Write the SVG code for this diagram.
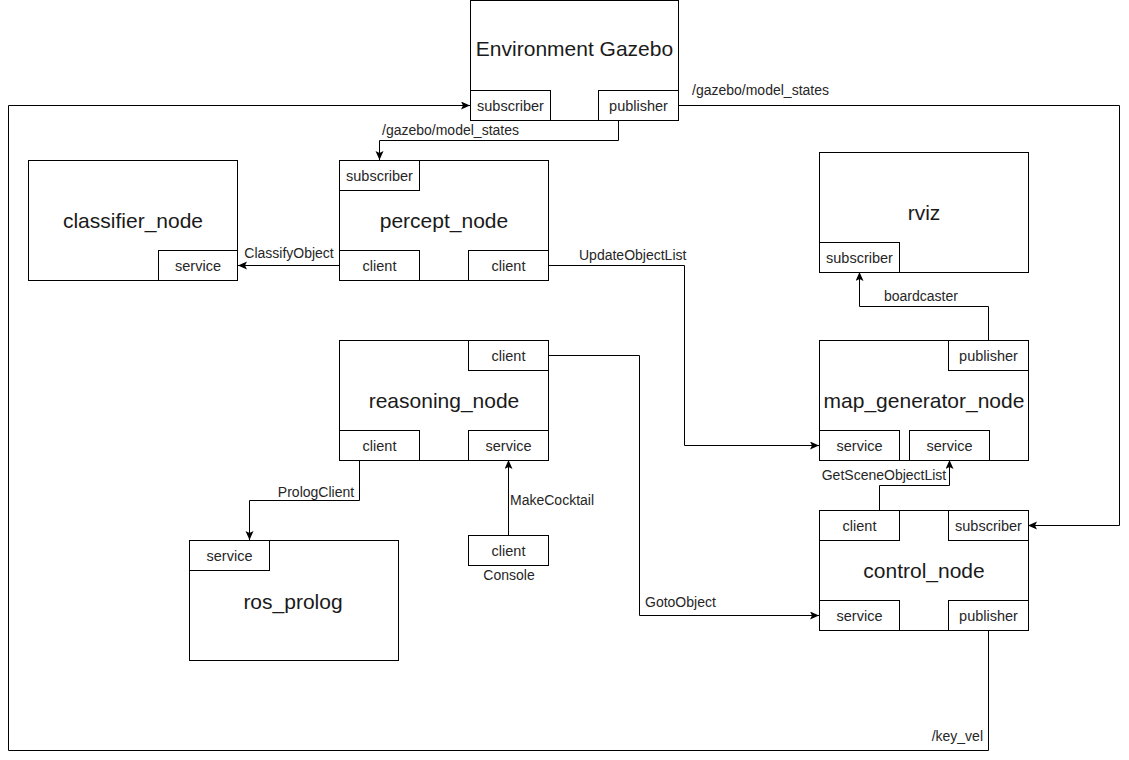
<svg xmlns="http://www.w3.org/2000/svg" width="1129" height="760" viewBox="0 0 1129 760">
<style>
  .box { fill: #ffffff; stroke: #000000; stroke-width: 1; }
  .edge { fill: none; stroke: #000000; stroke-width: 1; }
  .title { font-family: "Liberation Sans", Arial, sans-serif; font-size: 21px; fill: #1a1a1a; text-anchor: middle; }
  .port { font-family: "Liberation Sans", Arial, sans-serif; font-size: 14.5px; fill: #262626; text-anchor: middle; }
  .lbl { font-family: "Liberation Sans", Arial, sans-serif; font-size: 14px; fill: #262626; }
</style>
<defs>
  <marker id="arr" markerUnits="userSpaceOnUse" markerWidth="10" markerHeight="10" refX="9" refY="4" orient="auto">
    <path d="M0,0 L9,4 L0,8 L2,4 z" fill="#000000"/>
  </marker>
</defs>
<rect x="0" y="0" width="1129" height="760" fill="#ffffff"/>

<g id="connectors">
  <path class="edge" d="M618.5,120 V140.5 H379.5 V160" marker-end="url(#arr)"/>
  <path class="edge" d="M679,105.5 H1119.5 V525.5 H1028" marker-end="url(#arr)"/>
  <path class="edge" d="M988.5,630 V750.5 H8.5 V105.5 H470" marker-end="url(#arr)"/>
  <path class="edge" d="M339,265.5 H238" marker-end="url(#arr)"/>
  <path class="edge" d="M548,265.5 H684.5 V445.5 H819" marker-end="url(#arr)"/>
  <path class="edge" d="M988.5,340 V306.5 H859.5 V272" marker-end="url(#arr)"/>
  <path class="edge" d="M879.5,510 V485.5 H949.5 V460" marker-end="url(#arr)"/>
  <path class="edge" d="M548,355.5 H639.5 V615.5 H819" marker-end="url(#arr)"/>
  <path class="edge" d="M359.5,460 V500.5 H249.5 V540" marker-end="url(#arr)"/>
  <path class="edge" d="M508.5,535 V460" marker-end="url(#arr)"/>
  <text class="lbl" x="692" y="95">/gazebo/model_states</text>
  <text class="lbl" x="382" y="135">/gazebo/model_states</text>
  <text class="lbl" x="289" y="258" text-anchor="middle">ClassifyObject</text>
  <text class="lbl" x="579" y="260">UpdateObjectList</text>
  <text class="lbl" x="884" y="301">boardcaster</text>
  <text class="lbl" x="884" y="480" text-anchor="middle">GetSceneObjectList</text>
  <text class="lbl" x="316" y="497" text-anchor="middle">PrologClient</text>
  <text class="lbl" x="510" y="504.5">MakeCocktail</text>
  <text class="lbl" x="645" y="606.5">GotoObject</text>
  <text class="lbl" x="983" y="740.5" text-anchor="end">/key_vel</text>
</g>

<g id="environment_gazebo">
  <rect class="box" x="470.5" y="0.5" width="208" height="120"/>
  <text class="title" x="574.5" y="55.5">Environment Gazebo</text>
  <rect class="box" x="470.5" y="90.5" width="80" height="30"/>
  <text class="port" x="510.5" y="110.5">subscriber</text>
  <rect class="box" x="598.5" y="90.5" width="80" height="30"/>
  <text class="port" x="638.5" y="110.5">publisher</text>
</g>

<g id="classifier_node">
  <rect class="box" x="28.5" y="160.5" width="209" height="120"/>
  <text class="title" x="133" y="227.5">classifier_node</text>
  <rect class="box" x="158.5" y="250.5" width="79" height="30"/>
  <text class="port" x="198" y="270.5">service</text>
</g>

<g id="percept_node">
  <rect class="box" x="339.5" y="160.5" width="209" height="120"/>
  <text class="title" x="444" y="228">percept_node</text>
  <rect class="box" x="339.5" y="160.5" width="80" height="30"/>
  <text class="port" x="379.5" y="180.5">subscriber</text>
  <rect class="box" x="339.5" y="250.5" width="80" height="30"/>
  <text class="port" x="379.5" y="270.5">client</text>
  <rect class="box" x="468.5" y="250.5" width="80" height="30"/>
  <text class="port" x="508.5" y="270.5">client</text>
</g>

<g id="rviz">
  <rect class="box" x="819.5" y="152.5" width="209" height="120"/>
  <text class="title" x="924" y="220">rviz</text>
  <rect class="box" x="819.5" y="242.5" width="80" height="30"/>
  <text class="port" x="859.5" y="262.5">subscriber</text>
</g>

<g id="map_generator_node">
  <rect class="box" x="819.5" y="340.5" width="209" height="120"/>
  <text class="title" x="924" y="408">map_generator_node</text>
  <rect class="box" x="948.5" y="340.5" width="80" height="30"/>
  <text class="port" x="988.5" y="360.5">publisher</text>
  <rect class="box" x="819.5" y="430.5" width="80" height="30"/>
  <text class="port" x="859.5" y="450.5">service</text>
  <rect class="box" x="909.5" y="430.5" width="80" height="30"/>
  <text class="port" x="949.5" y="450.5">service</text>
</g>

<g id="reasoning_node">
  <rect class="box" x="339.5" y="340.5" width="209" height="120"/>
  <text class="title" x="444" y="408">reasoning_node</text>
  <rect class="box" x="468.5" y="340.5" width="80" height="30"/>
  <text class="port" x="508.5" y="360.5">client</text>
  <rect class="box" x="339.5" y="430.5" width="80" height="30"/>
  <text class="port" x="379.5" y="450.5">client</text>
  <rect class="box" x="468.5" y="430.5" width="80" height="30"/>
  <text class="port" x="508.5" y="450.5">service</text>
</g>

<g id="ros_prolog">
  <rect class="box" x="189.5" y="540.5" width="209" height="120"/>
  <text class="title" x="293" y="608.5">ros_prolog</text>
  <rect class="box" x="189.5" y="540.5" width="80" height="30"/>
  <text class="port" x="229.5" y="560.5">service</text>
</g>

<g id="console">
  <rect class="box" x="468.5" y="535.5" width="80" height="30"/>
  <text class="port" x="508.5" y="555.5">client</text>
  <text class="lbl" x="509" y="580" text-anchor="middle">Console</text>
</g>

<g id="control_node">
  <rect class="box" x="819.5" y="510.5" width="209" height="120"/>
  <text class="title" x="924" y="578">control_node</text>
  <rect class="box" x="819.5" y="510.5" width="80" height="30"/>
  <text class="port" x="859.5" y="530.5">client</text>
  <rect class="box" x="948.5" y="510.5" width="80" height="30"/>
  <text class="port" x="988.5" y="530.5">subscriber</text>
  <rect class="box" x="819.5" y="600.5" width="80" height="30"/>
  <text class="port" x="859.5" y="620.5">service</text>
  <rect class="box" x="948.5" y="600.5" width="80" height="30"/>
  <text class="port" x="988.5" y="620.5">publisher</text>
</g>
</svg>
